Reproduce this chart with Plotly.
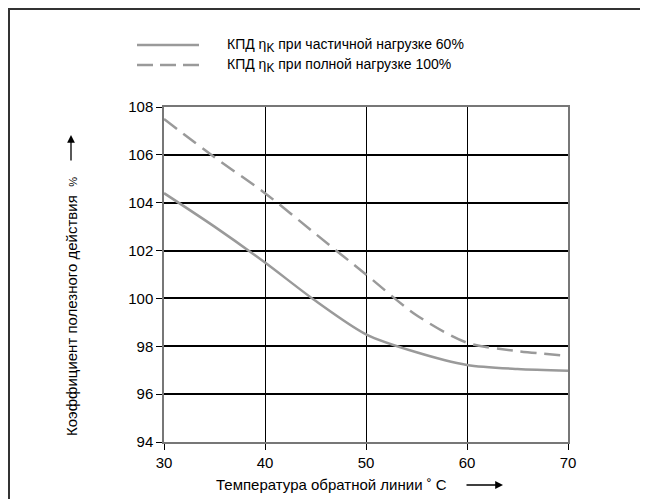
import plotly.graph_objects as go

# Data
temperature = [30, 35, 40, 45, 50, 55, 60, 65, 70]
eff_partial_60 = [104.4, 103.0, 101.5, 99.9, 98.5, 97.75, 97.22, 97.05, 96.98]
eff_full_100 = [107.5, 105.9, 104.4, 102.7, 101.0, 99.3, 98.15, 97.8, 97.6]

x_ticks = [30, 40, 50, 60, 70]
y_ticks = [94, 96, 98, 100, 102, 104, 106, 108]

legend_partial = "КПД η<sub><span style='font-size:12px'>K</span></sub> при частичной нагрузке 60%"
legend_full = "КПД η<sub><span style='font-size:12px'>K</span></sub> при полной нагрузке 100%"
x_title = "Температура обратной линии ˚ C"
y_title = "Коэффициент полезного действия  <span style='font-size:11px'>%</span>"

# page offset (body margin of the html page)
OFF = 8
W, H = 640, 491
# plot area in window pixels: x 164..568, y 107..442
L, T = 164 - OFF, 107 - OFF
R = W - (568 - OFF)
B = H - (442 - OFF)
pw, ph = W - L - R, H - T - B


def px_x(p):
    return (p - OFF - L) / pw


def px_y(p):
    return (H - B - (p - OFF)) / ph


line_color = "#9a9a9a"
font_family = "Liberation Sans, Arial, sans-serif"

fig = go.Figure()
fig.add_trace(go.Scatter(x=temperature, y=eff_partial_60, mode="lines",
                         line=dict(color=line_color, width=2.5, shape="spline", smoothing=0.8),
                         showlegend=False, name="60%"))
fig.add_trace(go.Scatter(x=temperature, y=eff_full_100, mode="lines",
                         line=dict(color=line_color, width=2.5, shape="spline", smoothing=0.8,
                                   dash="16px,8px"),
                         showlegend=False, name="100%"))

fig.update_layout(
    width=W, height=H,
    margin=dict(l=L, r=R, t=T, b=B),
    paper_bgcolor="white", plot_bgcolor="white",
    font=dict(family=font_family, color="black", size=14),
    xaxis=dict(range=[30, 70], tickvals=x_ticks, ticks="outside", ticklen=6,
               tickcolor="black", tickwidth=1, showgrid=True, gridcolor="black",
               gridwidth=1.2, showline=True, linecolor="#777", linewidth=1.5,
               mirror=True, zeroline=False, tickfont=dict(size=15)),
    yaxis=dict(range=[94, 108], tickvals=y_ticks, ticks="outside", ticklen=6,
               tickcolor="black", tickwidth=1, showgrid=True, gridcolor="black",
               gridwidth=2, showline=True, linecolor="#777", linewidth=1.5,
               mirror=True, zeroline=False, tickfont=dict(size=15)),
)

shapes = [
    # outer frame (partly off-canvas on right and bottom)
    dict(type="rect", xref="paper", yref="paper",
         x0=px_x(9), x1=px_x(720), y0=px_y(560), y1=px_y(9),
         line=dict(color="#333", width=2), fillcolor="rgba(0,0,0,0)", layer="below"),
    # legend lines
    dict(type="line", xref="paper", yref="paper",
         x0=px_x(137), x1=px_x(199), y0=px_y(45), y1=px_y(45),
         line=dict(color=line_color, width=2.5)),
    dict(type="line", xref="paper", yref="paper",
         x0=px_x(137), x1=px_x(199), y0=px_y(65), y1=px_y(65),
         line=dict(color=line_color, width=2.5, dash="16px,7px")),
]
fig.update_layout(shapes=shapes)

annotations = [
    dict(text=legend_partial, xref="paper", yref="paper", x=px_x(225), y=px_y(45),
         xanchor="left", yanchor="middle", showarrow=False, font=dict(size=14)),
    dict(text=legend_full, xref="paper", yref="paper", x=px_x(225), y=px_y(65),
         xanchor="left", yanchor="middle", showarrow=False, font=dict(size=14)),
    dict(text=x_title, xref="paper", yref="paper", x=px_x(331), y=px_y(485),
         xanchor="center", yanchor="middle", showarrow=False, font=dict(size=15)),
    dict(text="", xref="paper", yref="paper", x=px_x(503), y=px_y(485),
         ax=-38, ay=0, showarrow=True, arrowhead=2, arrowsize=1.2, arrowwidth=1.3,
         arrowcolor="black"),
    dict(text=y_title, xref="paper", yref="paper", x=px_x(71), y=px_y(307),
         xanchor="center", yanchor="middle", textangle=-90, showarrow=False,
         font=dict(size=15)),
    dict(text="", xref="paper", yref="paper", x=px_x(71), y=px_y(135),
         ax=0, ay=27, showarrow=True, arrowhead=2, arrowsize=1.2, arrowwidth=1.3,
         arrowcolor="black"),
]
fig.update_layout(annotations=annotations)

fig.write_html("out.html")
